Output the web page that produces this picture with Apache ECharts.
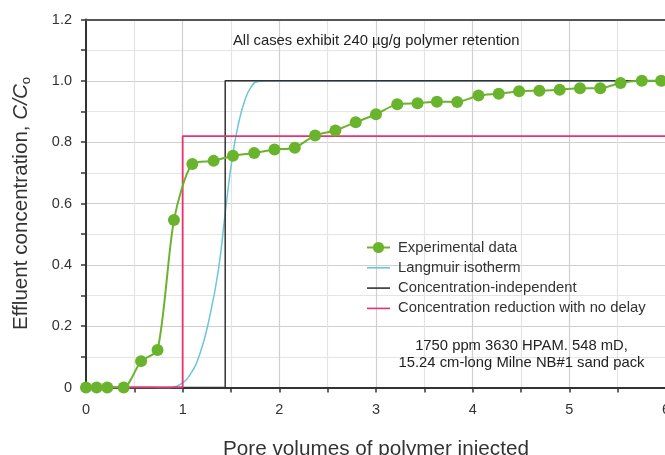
<!DOCTYPE html>
<html>
<head>
<meta charset="utf-8">
<script src="https://cdn.jsdelivr.net/npm/echarts@6/dist/echarts.min.js"></script>
<style>
  html, body { margin: 0; padding: 0; background: #fff; }
  #chart { width: 665px; height: 455px; }
</style>
</head>
<body>
<div id="chart"></div>
<script>
// experimental breakthrough points
const expX = [0, 0.11, 0.22, 0.39, 0.57, 0.74, 0.91, 1.10, 1.32, 1.52, 1.74, 1.95, 2.16, 2.37, 2.58, 2.79, 3.00, 3.22, 3.43, 3.63, 3.84, 4.06, 4.27, 4.48, 4.69, 4.90, 5.11, 5.32, 5.53, 5.75, 5.95];
const expY = [0, 0, 0, 0, 0.086, 0.122, 0.546, 0.729, 0.739, 0.756, 0.765, 0.776, 0.782, 0.822, 0.838, 0.865, 0.891, 0.924, 0.927, 0.932, 0.931, 0.952, 0.958, 0.966, 0.968, 0.971, 0.976, 0.976, 0.993, 1.0, 1.0];
// langmuir isotherm curve
const langX = [0, 0.70, 0.80, 0.87, 0.97, 1.075, 1.18, 1.28, 1.37, 1.44, 1.51, 1.575, 1.645, 1.71, 1.78, 1.90, 6.0];
const langY = [0, 0, -0.005, -0.002, 0.009, 0.041, 0.112, 0.232, 0.384, 0.569, 0.742, 0.857, 0.938, 0.981, 0.998, 1.0, 1.0];
// concentration-independent step
const indepX = [0, 1.44, 1.44, 6];
const indepY = [0, 0, 1, 1];
// concentration reduction, no delay
const reduceX = [0, 1, 1, 6];
const reduceY = [0, 0, 0.82, 0.82];

const legendNames = ["Experimental data", "Langmuir isotherm", "Concentration-independent", "Concentration reduction with no delay"];
const noteLines = ["1750 ppm 3630 HPAM. 548 mD,", "15.24 cm-long Milne NB#1 sand pack"];
const titleText = "All cases exhibit 240 \u00b5g/g polymer retention";

const font = "Liberation Sans, Arial, sans-serif";
const lineIcon = "path://M0,0H23V1.6H0Z";
const pairs = (xs, ys) => xs.map((x, i) => [x, ys[i]]);

const chart = echarts.init(document.getElementById("chart"));
chart.setOption({
  animation: false,
  textStyle: { fontFamily: font },
  title: {
    text: titleText,
    left: 233,
    top: 33.5,
    padding: 0,
    textStyle: { fontSize: 14.8, fontWeight: "normal", color: "#222", fontFamily: font },
  },
  legend: {
    data: [
      { name: legendNames[0] },
      { name: legendNames[1], icon: lineIcon },
      { name: legendNames[2], icon: lineIcon },
      { name: legendNames[3], icon: lineIcon },
    ],
    orient: "vertical",
    left: 366,
    top: 240,
    padding: 0,
    itemWidth: 23,
    itemHeight: 14,
    itemGap: 5.3,
    textStyle: { fontSize: 14.8, color: "#333", fontFamily: font, padding: [0, 0, 0, 3] },
  },
  grid: { left: 86, top: 19.5, width: 580, height: 368, outerBoundsMode: "none", containLabel: false },
  xAxis: [
    {
      type: "value",
      min: 0,
      max: 6,
      interval: 1,
      name: "Pore volumes of polymer injected",
      nameLocation: "middle",
      nameGap: 51,
      nameTextStyle: { fontSize: 20.7, color: "#333", fontFamily: font },
      axisLine: { lineStyle: { color: "#333", width: 2 } },
      axisTick: { show: true, length: 5, lineStyle: { color: "#333", width: 1.5 } },
      minorTick: { show: true, splitNumber: 2, length: 5, lineStyle: { color: "#333", width: 1.5 } },
      axisLabel: { fontSize: 14.5, color: "#333", margin: 15, fontFamily: font },
      splitLine: { show: true, lineStyle: { color: "#cfcfcf", width: 1.2 } },
      minorSplitLine: { show: true, lineStyle: { color: "#e4e4e4", width: 1.2 } },
    },
    {
      type: "value",
      position: "top",
      min: 0,
      max: 6,
      axisLine: { show: true, onZero: false, lineStyle: { color: "#555", width: 2 } },
      axisTick: { show: false },
      axisLabel: { show: false },
      splitLine: { show: false },
    },
  ],
  yAxis: {
    type: "value",
    min: 0,
    max: 1.2,
    interval: 0.2,
    name: "{a|Effluent concentration, }{i|C/C}{s|o}",
    nameLocation: "middle",
    nameRotate: 90,
    nameGap: 53,
    nameTextStyle: {
      color: "#333",
      fontFamily: font,
      rich: {
        a: { fontSize: 20.6, color: "#333", fontFamily: font },
        i: { fontSize: 20.6, color: "#333", fontStyle: "italic", fontFamily: font },
        s: { fontSize: 13, color: "#333", fontFamily: font, padding: [11, 0, 0, 0] },
      },
    },
    axisLine: { show: true, lineStyle: { color: "#333", width: 2 } },
    axisTick: { show: true, length: 5, lineStyle: { color: "#333", width: 1.5 } },
    minorTick: { show: true, splitNumber: 2, length: 5, lineStyle: { color: "#333", width: 1.5 } },
    axisLabel: {
      fontSize: 14.5,
      color: "#333",
      margin: 14,
      fontFamily: font,
      formatter: (v) => (v === 0 ? "0" : v.toFixed(1)),
    },
    splitLine: { show: true, lineStyle: { color: "#cfcfcf", width: 1.2 } },
    minorSplitLine: { show: true, lineStyle: { color: "#e4e4e4", width: 1.2 } },
  },
  graphic: [
    {
      type: "text",
      x: 521.5,
      y: 337,
      z: 10,
      style: {
        text: noteLines.join("\n"),
        align: "center",
        fontSize: 14.8,
        lineHeight: 17.6,
        fill: "#222",
        fontFamily: font,
      },
    },
  ],
  series: [
    {
      name: legendNames[1],
      type: "line",
      data: pairs(langX, langY),
      symbol: "none",
      smooth: true,
      z: 2,
      lineStyle: { color: "#6cc6d9", width: 1.5 },
      itemStyle: { color: "#6cc6d9" },
    },
    {
      name: legendNames[2],
      type: "line",
      data: pairs(indepX, indepY),
      symbol: "none",
      z: 3,
      lineStyle: { color: "#333", width: 1.5 },
      itemStyle: { color: "#333" },
    },
    {
      name: legendNames[3],
      type: "line",
      data: pairs(reduceX, reduceY),
      symbol: "none",
      z: 4,
      lineStyle: { color: "#e8336c", width: 1.8 },
      itemStyle: { color: "#e8336c" },
    },
    {
      name: legendNames[0],
      type: "line",
      data: pairs(expX, expY),
      symbol: "circle",
      symbolSize: 12,
      smooth: 0.25,
      z: 5,
      lineStyle: { color: "#6ab42d", width: 2 },
      itemStyle: { color: "#6ab42d" },
    },
  ],
});
</script>
</body>
</html>
